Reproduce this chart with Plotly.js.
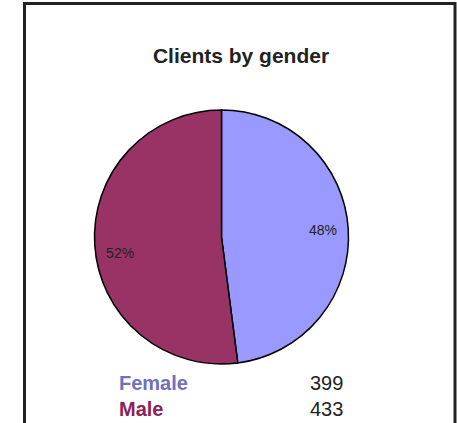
<!DOCTYPE html>
<html>
<head>
<meta charset="utf-8">
<script src="https://cdn.plot.ly/plotly-3.0.1.min.js"></script>
<style>
html,body{margin:0;padding:0;background:#fff;}
#chart{width:457px;height:423px;}
</style>
</head>
<body>
<div id="chart"></div>
<script>
var categories = ["Female", "Male"];
var clients = [399, 433];
var sliceColors = ["#9999FF", "#993366"];
var labelColors = ["#7070C0", "#8E1D5A"];
var chartTitle = "Clients by gender";

var W = 457, H = 423;
var cx = 221.5, cy = 237, r = 127;
var pieDomain = {x: [(cx - r) / W, (cx + r) / W], y: [(H - cy - r) / H, (H - cy + r) / H]};

var pieTrace = {
  type: "pie",
  labels: categories,
  values: clients,
  sort: false,
  direction: "clockwise",
  rotation: 0,
  marker: {colors: sliceColors, line: {color: "#000000", width: 1.5}},
  textinfo: "none",
  hoverinfo: "none",
  showlegend: false,
  domain: pieDomain
};

// same data, transparent ring, only used to place the percentage labels near the rim
var labelTrace = {
  type: "pie",
  labels: categories,
  values: clients,
  sort: false,
  direction: "clockwise",
  rotation: 0,
  hole: 0.6,
  marker: {colors: ["rgba(0,0,0,0)", "rgba(0,0,0,0)"], line: {width: 0}},
  textinfo: "percent",
  texttemplate: ["%{percent:.0%}", "\u00a0<br>%{percent:.0%}"],
  textposition: "inside",
  insidetextorientation: "horizontal",
  textfont: {family: "Liberation Sans, Arial, sans-serif", size: 14, color: "#222222"},
  hoverinfo: "none",
  showlegend: false,
  domain: pieDomain
};

var annotations = [];
var rowY = [383, 409];
for (var i = 0; i < categories.length; i++) {
  annotations.push({
    xref: "paper", yref: "paper", x: 117 / W, y: 1 - rowY[i] / H,
    xanchor: "left", yanchor: "middle", showarrow: false,
    text: "<b>" + categories[i] + "</b>",
    font: {family: "Liberation Sans, Arial, sans-serif", size: 20, color: labelColors[i]}
  });
  annotations.push({
    xref: "paper", yref: "paper", x: 308 / W, y: 1 - rowY[i] / H,
    xanchor: "left", yanchor: "middle", showarrow: false,
    text: String(clients[i]),
    font: {family: "Liberation Sans, Arial, sans-serif", size: 20, color: "#222222"}
  });
}

var layout = {
  width: W, height: H,
  margin: {l: 0, r: 0, t: 0, b: 0},
  paper_bgcolor: "#ffffff",
  title: {
    text: "<b>" + chartTitle + "</b>",
    x: 241 / W, xanchor: "center",
    y: 1 - 56 / H, yanchor: "middle",
    font: {family: "Liberation Sans, Arial, sans-serif", size: 21, color: "#222222"}
  },
  annotations: annotations,
  shapes: [{
    type: "rect", xref: "paper", yref: "paper",
    x0: 24.5 / W, x1: 455 / W, y0: -0.05, y1: 1 - 3.5 / H,
    line: {color: "#222222", width: 3}
  }]
};

Plotly.newPlot("chart", [pieTrace, labelTrace], layout, {staticPlot: true, displayModeBar: false});
</script>
</body>
</html>
